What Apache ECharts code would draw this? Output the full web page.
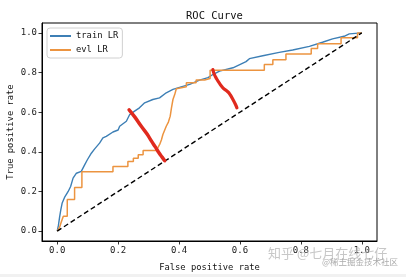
<!DOCTYPE html>
<html>
<head>
<meta charset="utf-8">
<script src="https://cdn.jsdelivr.net/npm/echarts@6/dist/echarts.min.js"></script>
<style>html,body{margin:0;padding:0;background:#fff}#c{width:406px;height:277px}</style>
</head>
<body>
<div id="c"></div>
<script>
// ---- data ----
const xTicks = [0, 0.2, 0.4, 0.6, 0.8, 1.0];
const yTicks = [0, 0.2, 0.4, 0.6, 0.8, 1.0];
const trainLR = [[0,0],[0.004,0.03],[0.008,0.073],[0.012,0.11],[0.016,0.14],[0.025,0.173],[0.036,0.2],[0.044,0.225],[0.052,0.267],[0.063,0.292],[0.079,0.301],[0.09,0.334],[0.099,0.36],[0.112,0.393],[0.123,0.415],[0.139,0.444],[0.15,0.47],[0.161,0.478],[0.183,0.5],[0.2,0.51],[0.205,0.529],[0.227,0.554],[0.238,0.588],[0.254,0.605],[0.27,0.622],[0.287,0.647],[0.314,0.664],[0.336,0.672],[0.358,0.698],[0.38,0.715],[0.407,0.728],[0.435,0.74],[0.467,0.762],[0.495,0.774],[0.511,0.79],[0.533,0.807],[0.577,0.824],[0.62,0.855],[0.631,0.87],[0.675,0.885],[0.729,0.902],[0.773,0.914],[0.828,0.932],[0.871,0.953],[0.904,0.97],[0.942,0.983],[0.959,0.995],[1,1]];
const evlLR = [[0,0],[0.008,0.02],[0.013,0.045],[0.02,0.075],[0.033,0.075],[0.033,0.16],[0.057,0.16],[0.057,0.22],[0.081,0.22],[0.081,0.30],[0.183,0.30],[0.183,0.326],[0.232,0.326],[0.232,0.351],[0.25,0.351],[0.25,0.368],[0.266,0.368],[0.266,0.385],[0.282,0.385],[0.282,0.407],[0.325,0.407],[0.33,0.42],[0.336,0.436],[0.342,0.46],[0.347,0.487],[0.358,0.529],[0.365,0.55],[0.371,0.58],[0.375,0.62],[0.38,0.664],[0.386,0.69],[0.391,0.718],[0.396,0.728],[0.424,0.728],[0.424,0.748],[0.456,0.748],[0.456,0.762],[0.484,0.762],[0.484,0.77],[0.502,0.77],[0.502,0.812],[0.68,0.812],[0.68,0.84],[0.708,0.84],[0.708,0.865],[0.751,0.865],[0.751,0.894],[0.834,0.894],[0.834,0.921],[0.855,0.921],[0.855,0.945],[0.932,0.945],[0.932,0.975],[0.986,0.975],[0.986,1.0],[1,1]];
const chanceLine = [[0,0],[1,1]];
const redMark1 = [[0.236,0.612],[0.255,0.575],[0.276,0.529],[0.295,0.49],[0.309,0.455],[0.322,0.425],[0.334,0.395],[0.345,0.372],[0.353,0.355]];
const redMark2 = [[0.511,0.815],[0.516,0.79],[0.522,0.772],[0.533,0.745],[0.544,0.723],[0.56,0.703],[0.568,0.688],[0.577,0.664],[0.585,0.64],[0.59,0.622]];

const FONT = 'DejaVu Sans Mono';
const chart = echarts.init(document.getElementById('c'), null, {renderer: 'canvas'});
const axisCommon = {
  type: 'value', min: -0.05, max: 1.05,
  splitLine: {show: false},
  axisLine: {show: true, onZero: false, lineStyle: {color: '#000', width: 1}},
  axisTick: {show: true, inside: false, length: 3.5, lineStyle: {color: '#000', width: 0.8}},
  axisLabel: {color: '#222', fontFamily: FONT, fontSize: 9, formatter: v => v.toFixed(1)},
  nameLocation: 'middle',
  nameMoveOverlap: false,
  nameTextStyle: {color: '#111', fontFamily: FONT, fontSize: 8.8}
};
chart.setOption({
  animation: false,
  title: {text: 'ROC Curve', left: 181, top: 6, textStyle: {fontFamily: FONT, fontSize: 10.5, fontWeight: 'normal', color: '#111'}},
  grid: {left: 42, right: 29, top: 23, bottom: 36, containLabel: false, outerBoundsMode: 'none', show: true, borderColor: '#000', borderWidth: 1, backgroundColor: 'transparent'},
  legend: {
    data: ['train LR', 'evl LR'], orient: 'vertical', left: 47, top: 28,
    icon: 'rect', itemWidth: 21, itemHeight: 2, itemGap: 4,
    padding: [3, 4, 3, 3],
    backgroundColor: '#fff', borderColor: '#d0d0d0', borderWidth: 1, borderRadius: 3,
    textStyle: {fontFamily: FONT, fontSize: 8.8, color: '#111', lineHeight: 10}
  },
  xAxis: Object.assign({}, axisCommon, {
    name: 'False positive rate', nameGap: 22,
    axisTick: Object.assign({}, axisCommon.axisTick, {customValues: xTicks}),
    axisLabel: Object.assign({}, axisCommon.axisLabel, {customValues: xTicks, margin: 5})
  }),
  yAxis: Object.assign({}, axisCommon, {
    name: 'True positive rate', nameGap: 27,
    axisTick: Object.assign({}, axisCommon.axisTick, {customValues: yTicks}),
    axisLabel: Object.assign({}, axisCommon.axisLabel, {customValues: yTicks, margin: 5})
  }),
  series: [
    {name: 'train LR', type: 'line', data: trainLR, showSymbol: false, lineStyle: {color: '#3d7fb5', width: 1.4}, itemStyle: {color: '#3d7fb5'}, z: 2},
    {name: 'evl LR', type: 'line', data: evlLR, showSymbol: false, lineStyle: {color: '#ec9440', width: 1.5}, itemStyle: {color: '#ec9440'}, z: 3},
    {name: 'chance', type: 'line', data: chanceLine, showSymbol: false, lineStyle: {color: '#000', width: 1.4, type: [5, 3]}, z: 4},
    {name: 'mark1', type: 'line', data: redMark1, showSymbol: false, smooth: true, lineStyle: {color: '#e02a1e', width: 3.5, cap: 'round', join: 'round'}, z: 5},
    {name: 'mark2', type: 'line', data: redMark2, showSymbol: false, smooth: true, lineStyle: {color: '#e02a1e', width: 3.2, cap: 'round', join: 'round'}, z: 5}
  ],
  graphic: [
    {type: 'rect', shape: {x: 0, y: 274, width: 406, height: 3}, style: {fill: '#f1f1f1'}, silent: true},
    {type: 'text', x: 268, y: 247, style: {text: '知乎 @七月在线七仔', font: '13px "Noto Sans CJK SC"', fill: 'rgba(180,180,180,0.75)'}, z: 10},
    {type: 'text', x: 322, y: 258, style: {text: '@稀土掘金技术社区', font: '8.5px "Noto Sans CJK SC"', fill: 'rgba(150,150,150,0.8)'}, z: 10}
  ]
});
</script>
</body>
</html>
